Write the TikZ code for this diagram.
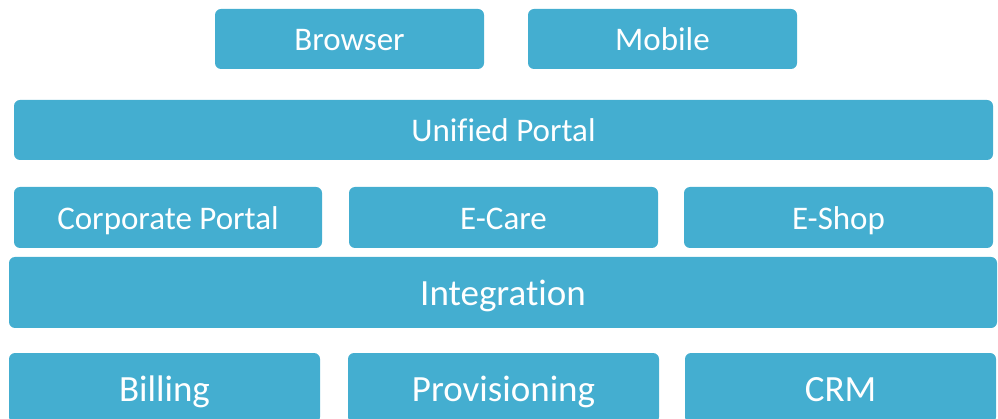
\documentclass[tikz,border=0pt]{standalone}
\usepackage{fontspec}
\setmainfont[Ligatures=NoCommon]{Carlito}
\definecolor{boxblue}{RGB}{68,174,208}
\begin{document}
\begin{tikzpicture}[x=1pt,y=-1pt,
  blk/.style={fill=boxblue,text=white,rounded corners=6pt,inner sep=0pt,anchor=center,
    font=\fontsize{33}{39}\selectfont,text height=24pt,text depth=0pt},
  big/.style={blk,font=\fontsize{37}{44}\selectfont,text height=26.5pt}]
\useasboundingbox (0,0) rectangle (998,419);
\node[blk,minimum width=269,minimum height=60] (browser) at (349.5,39) {Browser};
\node[blk,minimum width=269,minimum height=60] (mobile) at (662.5,39) {Mobile};
\node[blk,minimum width=979,minimum height=60] (unified) at (503.5,130) {Unified Portal};
\node[blk,minimum width=308,minimum height=61] (corp) at (168,217.5) {Corporate Portal};
\node[blk,minimum width=309,minimum height=61] (ecare) at (503.5,217.5) {E-Care};
\node[blk,minimum width=309,minimum height=61] (eshop) at (838.5,217.5) {E-Shop};
\node[big,minimum width=988,minimum height=71] (integration) at (503,292.5) {Integration};
\node[big,minimum width=311,minimum height=70] (billing) at (164.5,388) {Billing};
\node[big,minimum width=311,minimum height=70] (prov) at (503.5,388) {Provisioning};
\node[big,minimum width=311,minimum height=70] (crm) at (840.5,388) {CRM};
\end{tikzpicture}
\end{document}
